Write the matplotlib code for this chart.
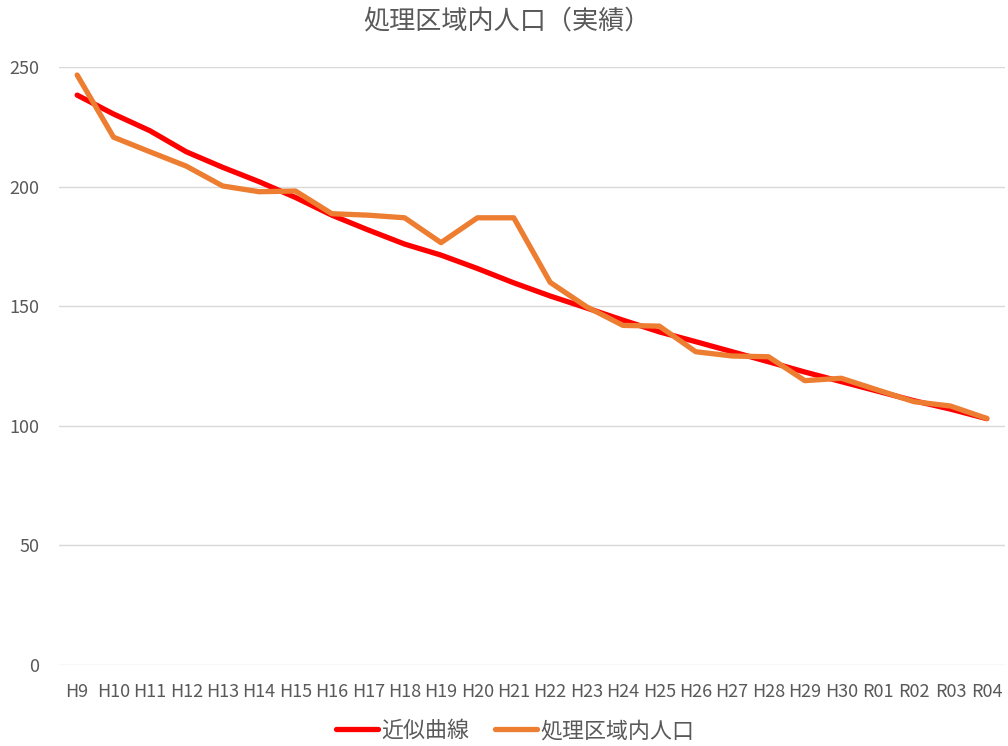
import matplotlib
matplotlib.use("Agg")
import matplotlib.pyplot as plt

plt.rcParams['font.family'] = ['Noto Sans CJK JP', 'DejaVu Sans']

# data
years = ["H9", "H10", "H11", "H12", "H13", "H14", "H15", "H16", "H17", "H18",
         "H19", "H20", "H21", "H22", "H23", "H24", "H25", "H26", "H27", "H28",
         "H29", "H30", "R01", "R02", "R03", "R04"]
actual = [246.7, 220.7, 214.6, 208.6, 200.3, 197.9, 198.2, 188.7, 188.1, 187.0,
          176.6, 187.0, 187.0, 160.0, 149.8, 142.0, 141.7, 131.0, 129.2, 128.9,
          118.9, 119.9, 115.0, 110.1, 108.3, 103.1]
trend = [238.3, 230.4, 223.4, 214.6, 208.1, 202.1, 195.5, 188.1, 181.9, 176.0,
         171.4, 165.8, 159.8, 154.3, 149.3, 144.2, 139.3, 135.2, 131.0, 126.8,
         122.5, 118.5, 114.5, 110.5, 107.0, 103.0]
yticks = [0, 50, 100, 150, 200, 250]

text_color = "#595959"

fig = plt.figure(figsize=(10.08, 7.46), dpi=100)
ax = fig.add_axes([0.0585, 0.1086, 0.9385, 0.8014])

x = list(range(len(years)))
ax.plot(x, trend, color="#FF0000", linewidth=3.8, label="近似曲線",
        solid_capstyle="round", solid_joinstyle="round", zorder=3)
ax.plot(x, actual, color="#ED7D31", linewidth=3.8, label="処理区域内人口",
        solid_capstyle="round", solid_joinstyle="round", zorder=4)

ax.set_xlim(-0.5, len(years) - 0.5)
ax.set_ylim(0, 250)
ax.set_yticks(yticks)
ax.set_xticks(x)
ax.set_xticklabels(years)
ax.grid(axis="y", color="#D9D9D9", linewidth=1)
ax.set_axisbelow(True)
for s in ax.spines.values():
    s.set_visible(False)
ax.tick_params(axis="both", length=0, labelsize=13, labelcolor=text_color)
ax.tick_params(axis="y", pad=14)
ax.tick_params(axis="x", pad=13)

fig.text(0.503, 0.972, "処理区域内人口（実績）", ha="center", va="center",
         fontsize=18.8, color=text_color)

fig.legend(loc="center", bbox_to_anchor=(0.511, 0.02), ncol=2, frameon=False,
           fontsize=15.8, labelcolor=text_color, handlelength=1.9,
           handletextpad=0.15, columnspacing=1.2)

fig.savefig("out.png", dpi=100)
